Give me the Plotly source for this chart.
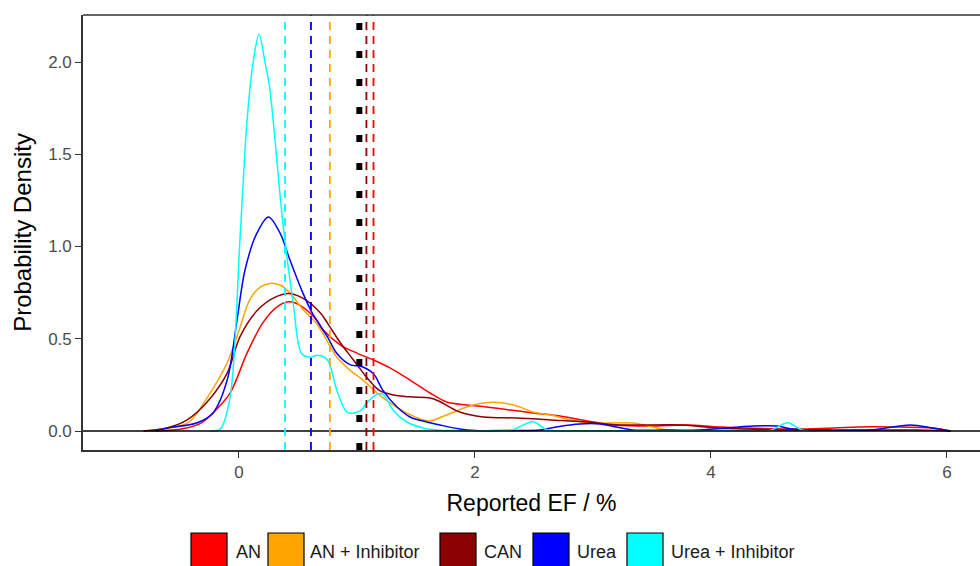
import plotly.graph_objects as go

# ---- data ----
series_names = ["AN", "AN + Inhibitor", "CAN", "Urea", "Urea + Inhibitor"]
series_colors = ["#FF0000", "#FFA500", "#8B0000", "#0000FF", "#00FFFF"]

an_x = [-0.75, -0.50, -0.33, -0.22, -0.076, 0.068, 0.20, 0.32, 0.43, 0.54, 0.66, 0.71, 0.86, 1.0, 1.14,
        1.28, 1.45, 1.62, 1.76, 1.93, 2.10, 2.30, 2.49, 2.72, 2.95, 3.17, 3.48, 3.80, 4.08, 4.81, 5.26,
        5.54, 5.88, 6.03]
an_y = [0.0, 0.01, 0.04, 0.098, 0.205, 0.422, 0.585, 0.672, 0.70, 0.672, 0.60, 0.55, 0.466, 0.422, 0.385,
        0.342, 0.276, 0.206, 0.157, 0.141, 0.130, 0.114, 0.098, 0.081, 0.054, 0.033, 0.027, 0.033, 0.022,
        0.011, 0.022, 0.022, 0.016, 0.0]

ani_x = [-0.80, -0.58, -0.42, -0.27, -0.10, 0.008, 0.09, 0.18, 0.26, 0.35, 0.43, 0.54, 0.66, 0.71, 0.83,
         0.94, 1.05, 1.17, 1.28, 1.42, 1.56, 1.62, 1.76, 1.93, 2.07, 2.24, 2.38, 2.49, 2.64, 2.78, 2.97,
         3.34, 3.63, 3.91]
ani_y = [0.0, 0.016, 0.05, 0.18, 0.37, 0.56, 0.71, 0.78, 0.80, 0.79, 0.75, 0.66, 0.58, 0.53, 0.40,
         0.33, 0.276, 0.206, 0.152, 0.098, 0.06, 0.054, 0.087, 0.13, 0.152, 0.152, 0.13, 0.103, 0.087,
         0.065, 0.043, 0.043, 0.005, 0.0]

can_x = [-0.81, -0.61, -0.44, -0.27, -0.10, 0.008, 0.15, 0.29, 0.42, 0.54, 0.69, 0.75, 0.86, 0.97, 1.08,
         1.19, 1.31, 1.45, 1.62, 1.70, 1.87, 2.07, 2.36, 2.64, 2.95, 3.23, 3.76, 4.05, 4.81, 5.75, 6.03]
can_y = [0.0, 0.016, 0.06, 0.157, 0.314, 0.51, 0.65, 0.72, 0.745, 0.72, 0.64, 0.585, 0.477, 0.385, 0.293,
         0.22, 0.195, 0.185, 0.179, 0.16, 0.103, 0.076, 0.07, 0.06, 0.049, 0.033, 0.033, 0.016, 0.005,
         0.005, 0.0]

urea_x = [-0.70, -0.61, -0.36, -0.22, -0.10, -0.017, 0.05, 0.15, 0.25, 0.35, 0.43, 0.54, 0.62, 0.75, 0.83,
          0.94, 1.04, 1.14, 1.22, 1.34, 1.45, 1.59, 1.70, 1.87, 2.0, 2.3, 2.55, 2.69, 2.89, 3.06, 3.20,
          3.34, 3.6, 3.9, 4.36, 4.56, 4.69, 5.0, 5.35, 5.69, 5.88, 6.03]
urea_y = [0.0, 0.016, 0.043, 0.098, 0.276, 0.60, 0.87, 1.07, 1.16, 1.07, 0.93, 0.75, 0.64, 0.51, 0.42,
          0.36, 0.35, 0.31, 0.22, 0.13, 0.076, 0.049, 0.033, 0.011, 0.003, 0.003, 0.005, 0.022, 0.038,
          0.038, 0.022, 0.006, 0.005, 0.006, 0.027, 0.027, 0.011, 0.005, 0.006, 0.033, 0.016, 0.0]

ureai_x = [-0.25, -0.16, -0.076, 0.008, 0.068, 0.12, 0.17, 0.22, 0.26, 0.37, 0.46, 0.53, 0.60, 0.67, 0.75,
           0.83, 0.92, 1.03, 1.08, 1.17, 1.22, 1.31, 1.42, 1.56, 1.70, 1.9, 2.1, 2.25, 2.32, 2.49, 2.61,
           2.72, 3.0, 3.4, 3.8, 4.2, 4.50, 4.65, 4.77, 4.88]
ureai_y = [0.0, 0.01, 0.18, 1.035, 1.68, 2.0, 2.15, 2.0, 1.86, 1.14, 0.69, 0.42, 0.40, 0.41, 0.385,
           0.22, 0.10, 0.11, 0.15, 0.20, 0.20, 0.11, 0.05, 0.016, 0.004, 0.002, 0.002, 0.003, 0.006, 0.05,
           0.006, 0.002, 0.002, 0.002, 0.002, 0.002, 0.003, 0.045, 0.006, 0.0]

series_x = [an_x, ani_x, can_x, urea_x, ureai_x]
series_y = [an_y, ani_y, can_y, urea_y, ureai_y]

# mean EF per fertiliser type (dashed lines) and overall mean (dotted black line)
group_means = [1.14, 0.77, 1.08, 0.61, 0.39]
overall_mean = 1.02

x_ticks = [0, 2, 4, 6]
y_ticks = [0.0, 0.5, 1.0, 1.5, 2.0]

FONT = "Liberation Sans, Arial, sans-serif"

fig = go.Figure()
for name, col, xs, ys in zip(series_names, series_colors, series_x, series_y):
    fig.add_trace(go.Scatter(x=xs, y=ys, mode="lines", name=name,
                             line=dict(color=col, width=1.5, shape="spline", smoothing=0.9),
                             showlegend=False, hoverinfo="skip"))

# horizontal zero line
fig.add_hline(y=0, line=dict(color="#000000", width=1.6), layer="above")

# group mean lines
for m, col in zip(group_means, series_colors):
    fig.add_shape(type="line", xref="x", yref="paper", x0=m, x1=m, y0=0, y1=1,
                  line=dict(color=col, width=1.8, dash="8px,6px"), layer="above")
# overall mean
fig.add_shape(type="line", xref="x", yref="paper", x0=overall_mean, x1=overall_mean, y0=0, y1=1,
              line=dict(color="#000000", width=6, dash="7px,21px"), layer="above")

# top border
fig.add_shape(type="line", xref="paper", yref="paper", x0=0, x1=1, y0=1, y1=1,
              line=dict(color="#333333", width=1.6), layer="above")

# ---- custom legend (large keys like the reference) ----
L, R, T, B = 83, 980, 15, 450
def px_x(p):
    return (p - L) / (R - L)
def px_y(p):
    return (B - p) / (B - T)

box_left = [191, 268, 440, 533, 627]
box_w = 36
text_left = [234, 308, 482, 575, 669]
for name, col, bl, tl in zip(series_names, series_colors, box_left, text_left):
    fig.add_shape(type="rect", xref="paper", yref="paper",
                  x0=px_x(bl), x1=px_x(bl + box_w), y0=px_y(533), y1=px_y(575),
                  fillcolor=col, line=dict(color="#000000", width=1.2), layer="above")
    fig.add_annotation(xref="paper", yref="paper", x=px_x(tl), y=px_y(552),
                       text=name, showarrow=False, xanchor="left", yanchor="middle",
                       font=dict(family=FONT, size=18, color="#1a1a1a"))

fig.update_layout(
    width=980, height=566,
    margin=dict(l=L, r=980 - R, t=T, b=566 - B),
    paper_bgcolor="white", plot_bgcolor="white",
    showlegend=False,
    font=dict(family=FONT, color="#000000"),
    xaxis=dict(range=[-1.322, 6.28], tickvals=x_ticks, ticks="outside", ticklen=6,
               tickcolor="#333333", tickwidth=1.2, showline=True, linecolor="#333333",
               linewidth=1.6, showgrid=False, zeroline=False,
               tickfont=dict(family=FONT, size=17, color="#4d4d4d"),
               title=dict(text="Reported EF / %", font=dict(family=FONT, size=23, color="#000000"),
                          standoff=14)),
    yaxis=dict(range=[-0.103, 2.255], tickvals=y_ticks, tickformat=".1f", ticks="outside",
               ticklen=6, tickcolor="#333333", tickwidth=1.2, showline=True,
               linecolor="#333333", linewidth=1.6, showgrid=False, zeroline=False,
               tickfont=dict(family=FONT, size=17, color="#4d4d4d"),
               title=dict(text="Probability Density", font=dict(family=FONT, size=24, color="#000000"),
                          standoff=10)),
)

fig.write_html("out.html", config={"displayModeBar": False},
               post_script="document.body.style.margin='0';document.body.style.padding='0';"
                           "document.body.style.overflow='hidden';")
